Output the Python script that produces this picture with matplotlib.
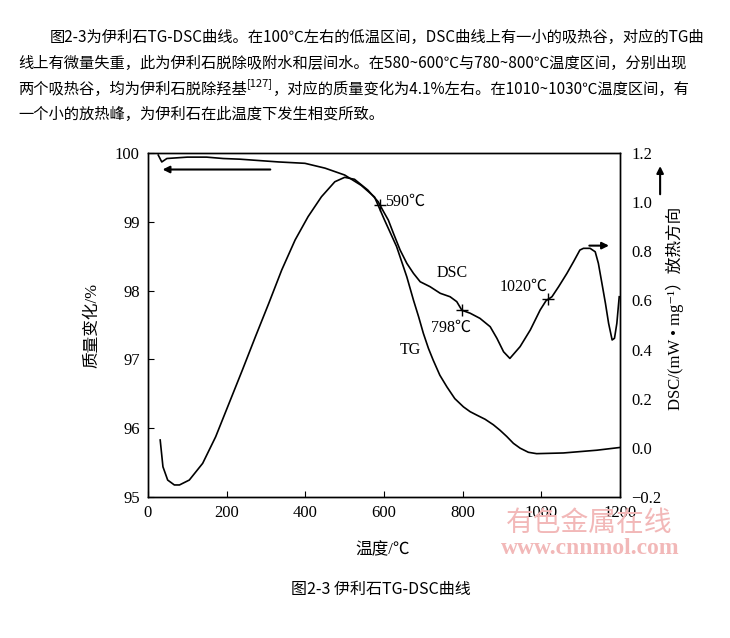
import matplotlib
matplotlib.use("Agg")
import matplotlib.pyplot as plt

# famille de polices : serif latin + CJK
SERIF = ['Liberation Serif', 'Noto Sans CJK SC', 'DejaVu Sans']
CJK = ['Noto Sans CJK SC', 'DejaVu Sans']
plt.rcParams['font.family'] = SERIF

# Données
tg_temp = [26, 35, 48, 100, 149, 191, 234, 332, 399, 450, 500, 542, 576, 601,
           632, 658, 675, 688, 700, 713, 725, 742, 760, 780, 802, 819, 836, 857, 878,
           895, 912, 929, 946, 967, 988, 1056, 1141, 1200]
tg_mass = [99.97, 99.87, 99.92, 99.94, 99.94, 99.92, 99.91, 99.87, 99.85, 99.78, 99.68,
           99.53, 99.36, 99.03, 98.64, 98.20, 97.86, 97.62, 97.38, 97.16, 96.99, 96.77,
           96.60, 96.43, 96.31, 96.24, 96.19, 96.13, 96.05, 95.97, 95.88, 95.78, 95.71,
           95.65, 95.63, 95.64, 95.68, 95.72]

dsc_temp = [31, 38, 50, 67, 80, 105, 139, 172, 206, 240, 273, 307, 340, 374, 407, 441,
            475, 500, 525, 559, 585, 599, 611, 624, 641, 658, 675, 692, 717, 743, 768,
            785, 798, 819, 844, 870, 887, 904, 920, 946, 972, 997, 1012, 1027, 1044,
            1065, 1082, 1098, 1107, 1124, 1137, 1145, 1154, 1163, 1171, 1180, 1186,
            1192, 1198]
dsc_val = [0.032, -0.077, -0.131, -0.151, -0.151, -0.131, -0.063, 0.045, 0.181, 0.317,
           0.452, 0.588, 0.724, 0.846, 0.941, 1.022, 1.083, 1.101, 1.093, 1.049, 1.002,
           0.961, 0.927, 0.873, 0.805, 0.751, 0.71, 0.676, 0.656, 0.629, 0.615, 0.595,
           0.56, 0.548, 0.527, 0.493, 0.446, 0.391, 0.364, 0.412, 0.48, 0.561, 0.599,
           0.615, 0.656, 0.71, 0.758, 0.805, 0.812, 0.812, 0.798, 0.751, 0.67, 0.588,
           0.507, 0.439, 0.446, 0.507, 0.615]

mark_temp = [590, 798, 1016]
mark_val = [0.99, 0.56, 0.607]
mark_labels = ['590℃', '798℃', '1020℃']

x_ticks = [0, 200, 400, 600, 800, 1000, 1200]
tg_ticks = [95, 96, 97, 98, 99, 100]
dsc_ticks = [-0.2, 0.0, 0.2, 0.4, 0.6, 0.8, 1.0, 1.2]

paragraph = [
    ("图2-3为伊利石TG-DSC曲线。在100℃左右的低温区间，DSC曲线上有一小的吸热谷，对应的TG曲", None, None),
    ("线上有微量失重，此为伊利石脱除吸附水和层间水。在580~600℃与780~800℃温度区间，分别出现", None, None),
    ("两个吸热谷，均为伊利石脱除羟基", "[127]", "，对应的质量变化为4.1%左右。在1010~1030℃温度区间，有"),
    ("一个小的放热峰，为伊利石在此温度下发生相变所致。", None, None),
]

W, H = 730, 638
fig = plt.figure(figsize=(W / 100, H / 100), dpi=100)
fig.patch.set_facecolor('white')

# Filigrane (derrière le reste)
fig.text(589 / W, 1 - 523 / H, '有色金属在线', ha='center', va='center', fontsize=20,
         color='#f2b8b8', family=CJK, zorder=0)
fig.text(590 / W, 1 - 549 / H, 'www.cnnmol.com', ha='center', va='center', fontsize=17,
         color='#f2b8b8', weight='bold', family=['Liberation Serif'], zorder=0)

# Axe principal (TG)
ax = fig.add_axes([148 / W, 1 - 497 / H, 472 / W, 344 / H])
ax.patch.set_alpha(0)
ax.plot(tg_temp, tg_mass, color='black', lw=1.2)
ax.set_xlim(0, 1200)
ax.set_ylim(95, 100)
ax.set_xticks(x_ticks)
ax.set_yticks(tg_ticks)
ax.tick_params(direction='in', length=4, labelsize=12, pad=6)

# Axe secondaire (DSC)
ax2 = ax.twinx()
ax2.plot(dsc_temp, dsc_val, color='black', lw=1.2)
ax2.plot(mark_temp, mark_val, '+', color='black', ms=8, mew=1.0)
ax2.set_ylim(-0.2, 1.2)
ax2.set_yticks(dsc_ticks)
ax2.set_yticklabels([f"{v:.1f}".replace('-', '−') for v in dsc_ticks])
ax2.tick_params(direction='in', length=0, labelsize=12, pad=8)

for a in (ax, ax2):
    for s in a.spines.values():
        s.set_linewidth(1.0)

# Annotations
ax2.text(603, 1.0, mark_labels[0], fontsize=11.5, va='center', ha='left')
ax2.text(773, 0.71, 'DSC', fontsize=11.5, va='center', ha='center')
ax2.text(770, 0.488, mark_labels[1], fontsize=11.5, va='center', ha='center')
ax2.text(666, 0.40, 'TG', fontsize=11.5, va='center', ha='center')
ax2.text(956, 0.655, mark_labels[2], fontsize=11.5, va='center', ha='center')

# Flèches
ax.annotate('', xy=(30, 99.76), xytext=(318, 99.76),
            arrowprops=dict(arrowstyle='-|>', color='black', lw=1.5, mutation_scale=10))
ax2.annotate('', xy=(1179, 0.823), xytext=(1115, 0.823),
             arrowprops=dict(arrowstyle='-|>', color='black', lw=1.5, mutation_scale=10))
ax2.annotate('', xy=(1.085, 0.97), xytext=(1.085, 0.872), xycoords='axes fraction',
             textcoords='axes fraction',
             arrowprops=dict(arrowstyle='-|>', color='black', lw=1.5, mutation_scale=10))

# Titres des axes
fig.text(92 / W, 1 - 325 / H, '质量变化/%', rotation=90, ha='center', va='center',
         fontsize=12, family=SERIF)
fig.text(675 / W, 1 - 308 / H, 'DSC/(mW • mg⁻¹）放热方向', rotation=90, ha='center',
         va='center', fontsize=12, family=SERIF)
fig.text(383 / W, 1 - 550 / H, '温度/℃', ha='center', va='center', fontsize=12, family=SERIF)

# Légende de la figure
fig.text(381 / W, 1 - 589 / H, '图2-3 伊利石TG-DSC曲线', ha='center', va='center',
         fontsize=11.5, family=CJK)

# Paragraphe au-dessus du graphique
renderer = fig.canvas.get_renderer()
line_y = [37, 63, 89, 114]
for i, (p1, sup, p2) in enumerate(paragraph):
    x0 = 50 if i == 0 else 18
    t = fig.text(x0 / W, 1 - line_y[i] / H, p1, ha='left', va='center',
                 fontsize=11, family=CJK)
    if sup:
        bb = t.get_window_extent(renderer)
        t2 = fig.text(bb.x1 / W, 1 - (line_y[i] - 5) / H, sup, ha='left', va='center',
                      fontsize=8, family=CJK)
        bb2 = t2.get_window_extent(renderer)
        fig.text(bb2.x1 / W, 1 - line_y[i] / H, p2, ha='left', va='center',
                 fontsize=11, family=CJK)

fig.savefig('out.png', dpi=100)
